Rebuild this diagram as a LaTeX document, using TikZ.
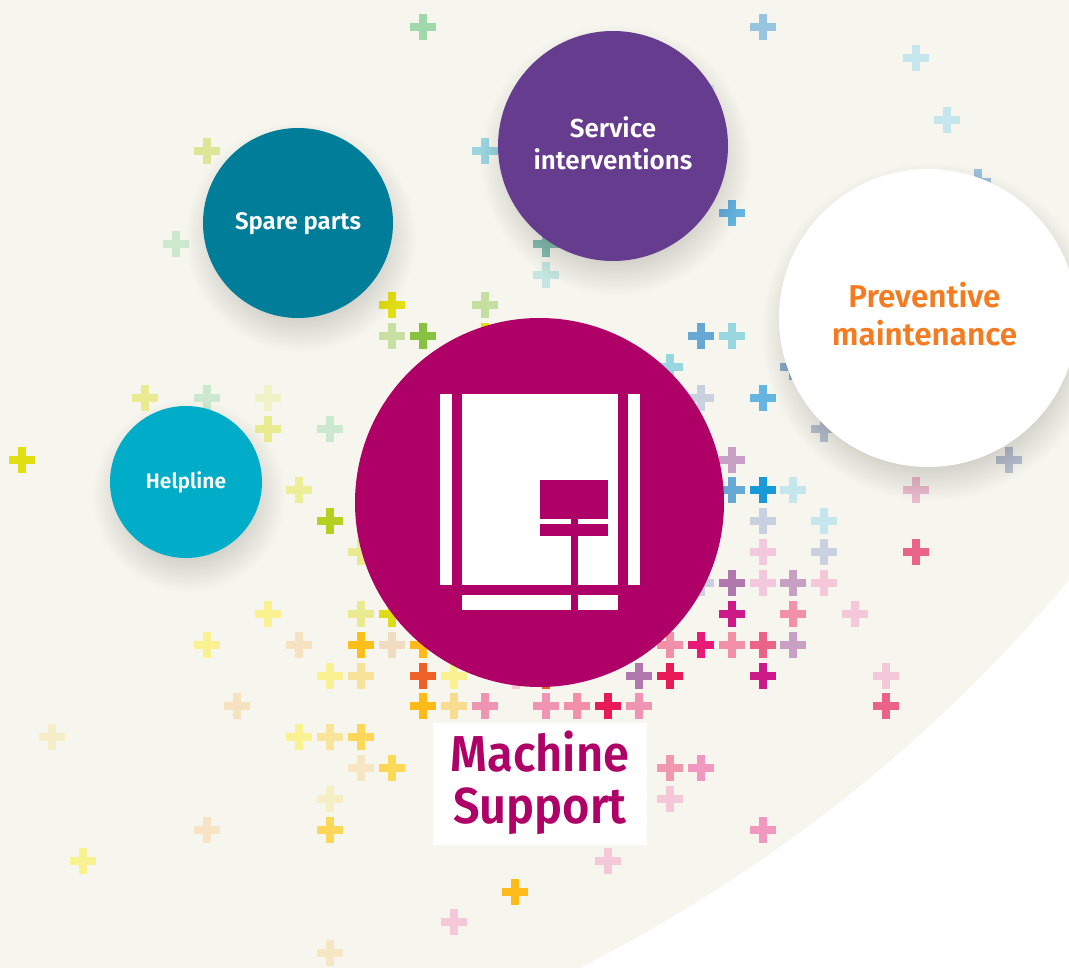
\documentclass[tikz,border=0pt]{standalone}
\usepackage{fontspec}
\setmainfont{Fira Sans}
\newfontfamily\dinbold{Fira Sans}[UprightFont=* SemiBold]
\newfontfamily\dinnarrow[FakeStretch=0.93]{Fira Sans}[UprightFont=* SemiBold]
\definecolor{paper}{HTML}{F6F5EE}
\definecolor{magenta}{HTML}{AE0066}
\definecolor{teal}{HTML}{007E99}
\definecolor{violet}{HTML}{663C8F}
\definecolor{sky}{HTML}{00ADC8}
\definecolor{orangeb}{HTML}{F47B20}
\tikzset{
  x=1pt,y=-1pt,
  disc/.style={circle,inner sep=0pt,outer sep=0pt},
  caption/.style={inner sep=0pt,outer sep=0pt,align=center},
}
\newcommand{\softshadow}[3]{% x y r
  \foreach \k in {0,...,19}{
    \fill[black,opacity=0.006] (#1+3,#2+14) circle ({#3+20-2*\k});
  }
}
\begin{document}
\begin{tikzpicture}
\useasboundingbox (0,0) rectangle (1069,968);
\fill[white] (0,0) rectangle (1069,968);
\fill[paper] (0,0) -- (1069,0) -- (1069,580) .. controls (930,745) and (770,870) .. (580,968) -- (0,968) -- cycle;
\foreach \x/\y/\c in {
423/27/A0D8AC,763/27/97C5E0,916/58/C5E6EC,947/120/C5E6EC,701/89/C5E6EC,207/151/DDE696,485/151/9AD5E0,978/182/9DC0DC,
732/213/64B5E0,176/244/CCE8CF,546/244/88C4B5,546/275/C5E6E0,392/305/E2DE14,485/305/C5DFA0,392/336/C8E0A4,423/336/88C040,
485/336/E2DE14,701/336/68A8D4,732/336/98D6E0,670/367/98D6E0,793/367/8FB0D0,145/398/EAEA90,207/398/CCE8CF,268/398/F0F2C8,
701/398/C9D1E0,763/398/64B5E0,268/429/EAEA90,330/429/CCE8CF,824/429/BCC4D4,22/460/E2DE14,732/460/C8A0C4,1009/460/BCC4D4,
299/490/EEEE98,732/490/68A8D4,763/490/189AD8,793/490/C5E6EC,916/490/E8BCCC,330/521/B4D020,763/521/C9D1E0,824/521/C5E6EC,
361/552/EAEA90,763/552/F2C8DC,824/552/C9D1E0,916/552/EC6388,701/583/C9D1E0,732/583/B078AC,763/583/F2C8DC,793/583/C8A0C4,
824/583/F4C8D8,268/614/FAF290,361/614/EAEA90,392/614/DCDC18,732/614/CC1A88,793/614/F290A8,855/614/F4C8D8,207/645/FAF290,
299/645/F6E2C0,361/645/FDC018,392/645/F0DCC0,423/645/FDBA18,670/645/F290A8,701/645/E81A78,732/645/F290A8,763/645/EC6388,
793/645/C8A0C4,330/676/FAF290,361/676/F8E29A,423/676/EE6228,454/676/FAF290,516/676/F4C8D8,546/676/EE6228,639/676/B078AC,
670/676/E81A58,763/676/CC1A88,886/676/F4C8D8,237/706/F6E2C0,423/706/FDBA18,454/706/F8DC90,485/706/F094B4,546/706/F094B4,
577/706/F290A8,608/706/E81A58,639/706/F094B4,886/706/EC6388,52/737/F6EEC8,299/737/FAF290,330/737/F8E49A,361/737/FDD858,
361/768/F6E6C4,392/768/FDD858,670/768/F098B0,701/768/F098C0,330/799/F6EEC4,670/799/F4C8D8,207/830/F6E4C4,330/830/FDD858,
763/830/F098C0,83/861/FAF290,608/861/F4C8D8,515/892/FDBA18,454/922/F4C8D8,330/953/F6E6C4}{
  \definecolor{pc}{HTML}{\c}
  \fill[pc] (\x-12.8,\y-4) rectangle (\x+13.2,\y+4);
  \fill[pc] (\x-3.8,\y-13) rectangle (\x+4.2,\y+13);
}
% shadows
\softshadow{298}{223}{95}
\softshadow{613}{146}{115}
\softshadow{928}{318}{149}
\softshadow{186}{482}{76}
% discs
\node[disc,fill=teal,minimum size=190pt] (spare) at (298,223) {};
\node[disc,fill=violet,minimum size=230pt] (service) at (613,146) {};
\node[disc,fill=white,minimum size=298pt] (prev) at (928,318) {};
\node[disc,fill=sky,minimum size=152pt] (help) at (186,482) {};
\node[disc,fill=magenta,minimum size=369pt] (main) at (539.5,502.5) {};
% captions
\node[caption,text=white,font=\dinbold\fontsize{24}{31}\selectfont] (sparetext) at (298,223.5) {Spare parts};
\node[caption,text=white,font=\dinbold\fontsize{26}{32}\selectfont] (servicetext) at (613,143) {Service\\interventions};
\node[caption,text=orangeb,font=\dinbold\fontsize{31.5}{38}\selectfont] (prevtext) at (924.5,314) {Preventive\\maintenance};
\node[caption,text=white,font=\dinbold\fontsize{21}{24}\selectfont] (helptext) at (186,482) {Helpline};
% icon
\fill[white] (440,394) rectangle (452,585);
\fill[white] (462,394) rectangle (618,585);
\fill[white] (628,394) rectangle (640,585);
\fill[white] (462,595) rectangle (618,610);
\fill[magenta] (540,480) rectangle (608,519);
\fill[magenta] (540,524) rectangle (608,536);
\fill[magenta] (571,519) rectangle (578,610);
% label
\node[fill=white,inner sep=0pt,outer sep=0pt,minimum width=214pt,minimum height=122pt] (labelbox) at (540,784) {};
\node[caption,text=magenta,font=\dinnarrow\fontsize{50.5}{51.5}\selectfont] (label) at (540,783) {Machine\\Support};
\end{tikzpicture}
\end{document}
